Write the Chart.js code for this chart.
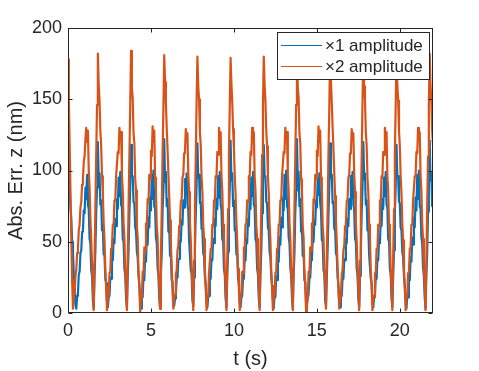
<!DOCTYPE html>
<html><head><meta charset="utf-8">
<script src="https://cdn.jsdelivr.net/npm/chart.js@4/dist/chart.umd.min.js"></script>
<style>html,body{margin:0;padding:0;background:#fff;overflow:hidden}canvas{display:block}</style>
</head><body>
<canvas id="c" width="479" height="371"></canvas>
<script>
// ---- data ----
const seriesNames = ['\u00d71 amplitude', '\u00d72 amplitude'];
const sampleInterval = 0.05; // s between samples
const xTickValues = [0, 5, 10, 15, 20];
const yTickValues = [0, 50, 100, 150, 200];

// |error| of the x1 amplitude run (nm)
const ampX1 = [
 116,98,90,74,66,50,42,27,19,6,3,12,14,27,29,42,44,57,58,72,70,88,80,97,76,73,52,49,30,26,9,3,26,44,70,88,
 120,94,98,76,79,58,60,41,41,24,21,8,4,11,12,25,24,38,37,52,49,66,61,80,73,95,82,99,76,74,52,50,31,27,10,4,26,44,70,88,
 118,96,96,78,77,60,58,43,39,26,19,9,3,12,11,26,23,39,36,53,48,67,60,81,72,97,80,100,75,73,53,49,32,26,11,3,27,42,71,86,
 122,92,99,75,80,57,61,40,42,23,22,7,5,10,13,24,25,37,38,51,50,65,62,79,74,94,83,98,77,72,51,51,30,28,9,5,25,45,69,89,
 119,95,97,77,78,59,59,42,40,25,20,8,4,11,12,25,24,38,37,52,49,66,61,80,73,96,81,99,76,73,52,50,31,27,10,4,26,43,70,87,
 121,93,98,75,79,58,60,41,41,24,21,8,4,11,12,25,24,38,37,52,49,66,61,80,73,95,82,99,76,74,52,50,31,27,10,4,26,44,70,88,
 118,96,96,78,77,60,58,43,39,26,19,9,3,12,11,26,23,39,36,53,48,67,60,81,72,97,80,100,75,73,53,49,32,26,11,3,27,42,71,86,
 122,92,99,75,80,57,61,40,42,23,22,7,5,10,13,24,25,37,38,51,50,65,62,79,74,94,83,98,77,72,51,51,30,28,9,5,25,45,69,89,
 119,95,97,77,78,59,59,42,40,25,20,8,4,11,12,25,24,38,37,52,49,66,61,80,73,96,81,99,76,73,52,50,31,27,10,4,26,43,70,87,
 120,94,98,76,79,58,60,41,41,24,21,8,4,11,12,25,24,38,37,52,49,66,61,80,73,95,82,99,76,74,52,50,31,27,10,4,26,44,70,88,
 118,96,96,78,77,60,58,43,39,26,19,9,3,12,11,26,23,39,36,53,48,67,60,81,72,97,80,100,75,73,53,49,32,26,11,3,27,42,71,86,
 121,93,98,75,79
];

// |error| of the x2 amplitude run (nm)
const ampX2 = [
 178,150,118,84,52,22,3,11,14,26,30,42,46,58,62,74,78,90,94,106,110,122,130,120,128,100,88,66,52,34,18,2,38,74,110,146,
 182,160,149,128,117,96,84,63,51,30,18,2,12,12,28,29,45,46,62,62,79,79,96,96,113,112,130,122,127,97,86,63,52,31,19,2,38,74,110,146,
 184,158,151,126,119,94,86,61,53,29,20,1,13,10,29,27,46,44,63,60,80,77,97,94,114,110,131,120,128,95,87,61,53,29,20,3,40,72,112,144,
 181,162,147,130,115,98,82,65,49,32,16,3,11,13,27,30,44,47,61,63,78,80,95,97,112,113,129,123,126,98,85,64,51,32,18,2,37,75,109,147,
 180,159,150,127,118,95,85,62,52,30,19,2,12,11,28,28,45,45,62,61,79,78,96,95,113,111,130,121,127,96,86,62,52,30,19,2,39,73,111,145,
 179,161,148,129,116,97,83,64,50,31,17,2,13,12,29,28,46,45,62,63,79,78,96,95,113,111,130,121,127,96,86,62,52,30,19,2,39,73,111,145,
 180,160,149,128,117,96,84,63,51,30,18,2,12,12,28,29,45,46,62,62,79,79,96,96,113,112,130,122,127,97,86,63,52,31,19,2,38,74,110,146,
 185,158,151,126,119,94,86,61,53,29,20,1,13,10,29,27,46,44,63,60,80,77,97,94,114,110,131,120,128,95,87,61,53,29,20,3,40,72,112,144,
 184,162,147,130,115,98,82,65,49,32,16,3,11,13,27,30,44,47,61,63,78,80,95,97,112,113,129,123,126,98,85,64,51,32,18,2,37,75,109,147,
 181,159,150,127,118,95,85,62,52,30,19,2,12,11,28,28,45,45,62,61,79,78,96,95,113,111,130,121,127,96,86,62,52,30,19,2,39,73,111,145,
 178,160,149,128,117,96,84,63,51,30,18,2,12,12,28,29,45,46,62,62,79,79,96,96,113,112,130,122,127,97,86,63,52,31,19,2,38,74,110,146,
 182,160,149,128,117
];

// ---- chart ----
const FONT = "'Liberation Sans', Arial, Helvetica, sans-serif";
const INK = '#262626';
Chart.defaults.font.family = FONT;
Chart.defaults.color = INK;

const toPoints = arr => arr.map((v, i) => ({ x: i * sampleInterval, y: v }));

const frameAndLegend = {
  id: 'frameAndLegend',
  afterDatasetsDraw(chart) {
    const ctx = chart.ctx;
    ctx.save();
    ctx.fillStyle = '#fff';
    ctx.fillRect(277.5, 32.5, 152, 47);
    ctx.strokeStyle = INK;
    ctx.lineWidth = 1;
    ctx.strokeRect(277.5, 32.5, 152, 47);
    const rows = [45.5, 66.5];
    ctx.font = "17px " + FONT;
    ctx.textBaseline = 'middle';
    ctx.textAlign = 'left';
    [0, 1].forEach((di, r) => {
      const ds = chart.data.datasets[di];
      ctx.strokeStyle = ds.borderColor;
      ctx.lineWidth = 1;
      ctx.beginPath();
      ctx.moveTo(281, rows[r]);
      ctx.lineTo(322, rows[r]);
      ctx.stroke();
      ctx.fillStyle = INK;
      ctx.fillText(ds.label, 325, rows[r] + 0.5);
    });
    ctx.restore();
  },
  afterDraw(chart) {
    const { ctx, chartArea: a, scales } = chart;
    ctx.save();
    ctx.strokeStyle = INK;
    ctx.lineWidth = 1;
    const L = a.left + 0.5, R = a.right - 0.5, T = a.top + 0.5, B = a.bottom - 0.5;
    ctx.strokeRect(L, T, R - L, B - T);
    const tl = 4;
    ctx.beginPath();
    xTickValues.forEach(v => {
      const p = Math.round(scales.x.getPixelForValue(v)) + 0.5;
      ctx.moveTo(p, B); ctx.lineTo(p, B - tl);
      ctx.moveTo(p, T); ctx.lineTo(p, T + tl);
    });
    yTickValues.forEach(v => {
      const p = Math.round(scales.y.getPixelForValue(v)) + 0.5;
      ctx.moveTo(L, p); ctx.lineTo(L + tl, p);
      ctx.moveTo(R, p); ctx.lineTo(R - tl, p);
    });
    ctx.stroke();
    ctx.restore();
  }
};

new Chart(document.getElementById('c'), {
  type: 'line',
  data: {
    datasets: [
      { label: seriesNames[0], data: toPoints(ampX1), borderColor: '#0072BD', backgroundColor: '#0072BD', borderWidth: 2.2, borderJoinStyle: 'round', order: 1 },
      { label: seriesNames[1], data: toPoints(ampX2), borderColor: '#D95319', backgroundColor: '#D95319', borderWidth: 2.2, borderJoinStyle: 'round', order: 0 }
    ]
  },
  options: {
    responsive: false,
    devicePixelRatio: 1,
    animation: false,
    parsing: false,
    normalized: true,
    elements: { point: { radius: 0 }, line: { tension: 0 } },
    layout: { padding: { left: 0, right: 46, top: 28, bottom: 0 } },
    plugins: { legend: { display: false }, tooltip: { enabled: false } },
    scales: {
      x: {
        type: 'linear', min: 0, max: 22,
        afterBuildTicks: s => { s.ticks = xTickValues.map(v => ({ value: v })); },
        afterFit: s => { s.height = 58; },
        grid: { display: false, drawTicks: false },
        border: { display: false },
        ticks: { font: { size: 18 }, color: INK, padding: 7, maxRotation: 0, autoSkip: false },
        title: { display: true, text: 't (s)', font: { size: 20 }, color: INK, padding: { top: 0, bottom: 0 } }
      },
      y: {
        type: 'linear', min: 0, max: 200,
        afterBuildTicks: s => { s.ticks = yTickValues.map(v => ({ value: v })); },
        afterFit: s => { s.width = 68; },
        grid: { display: false, drawTicks: false },
        border: { display: false },
        ticks: { font: { size: 18 }, color: INK, padding: 6, autoSkip: false },
        title: { display: true, text: 'Abs. Err. z (nm)', font: { size: 20 }, color: INK, padding: { top: 4, bottom: 0 } }
      }
    }
  },
  plugins: [frameAndLegend]
});
</script>
</body></html>
